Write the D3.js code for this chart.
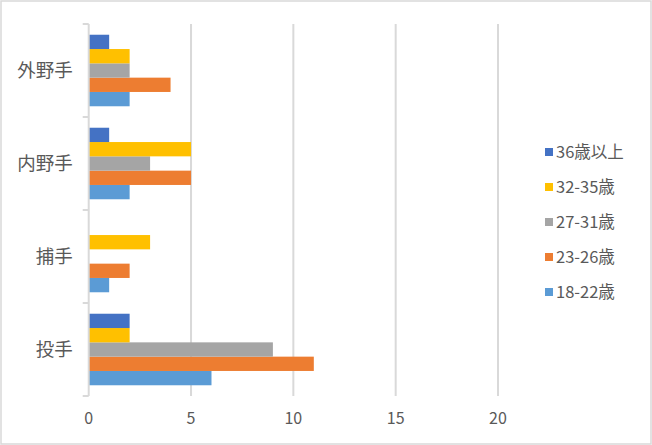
<!DOCTYPE html>
<html>
<head>
<meta charset="utf-8">
<script src="https://cdn.jsdelivr.net/npm/d3@7"></script>
<style>
  html, body { margin: 0; padding: 0; background: #fff; }
  svg { display: block; font-family: "Noto Sans CJK JP", "Noto Sans", sans-serif; }
</style>
</head>
<body>
<svg id="chart"></svg>
<script>
// categories listed bottom to top, as in the picture
const categories = ["投手", "捕手", "内野手", "外野手"];
const seriesNames = ["18-22歳", "23-26歳", "27-31歳", "32-35歳", "36歳以上"];
const seriesColors = ["#5B9BD5", "#ED7D31", "#A5A5A5", "#FFC000", "#4472C4"];

const age18_22 = [6, 1, 2, 2];
const age23_26 = [11, 2, 5, 4];
const age27_31 = [9, 0, 3, 2];
const age32_35 = [2, 3, 5, 2];
const age36plus = [2, 0, 1, 1];

const xTicks = [0, 5, 10, 15, 20];

const seriesValues = [age18_22, age23_26, age27_31, age32_35, age36plus];

const width = 652;
const height = 445;
const margin = { top: 24, right: 154, bottom: 49, left: 88.7 };

const svg = d3.select("#chart")
    .attr("width", width)
    .attr("height", height);

// outer chart border
svg.append("rect")
    .attr("x", 1).attr("y", 1)
    .attr("width", width - 2).attr("height", height - 2)
    .attr("fill", "#fff")
    .attr("stroke", "#d9d9d9")
    .attr("stroke-width", 1.5);

const x = d3.scaleLinear()
    .domain([0, 20])
    .range([margin.left, 498]);

const y = d3.scaleBand()
    .domain(categories.slice().reverse())
    .range([margin.top, height - margin.bottom]);

// inner band: 5 bars, gap width 150%
const bw = y.bandwidth() / (seriesNames.length + 1.5);
const pad = (y.bandwidth() - bw * seriesNames.length) / 2;

// gridlines
svg.append("g")
    .selectAll("line")
    .data(xTicks.filter(t => t > 0))
    .join("line")
    .attr("x1", d => x(d)).attr("x2", d => x(d))
    .attr("y1", margin.top).attr("y2", height - margin.bottom)
    .attr("stroke", "#d9d9d9")
    .attr("stroke-width", 2);

// bars
const rows = [];
categories.forEach((c, ci) => {
    seriesValues.forEach((vals, si) => {
        rows.push({ cat: c, si: si, value: vals[ci] });
    });
});

svg.append("g")
    .selectAll("rect")
    .data(rows.filter(d => d.value > 0))
    .join("rect")
    .attr("x", x(0))
    // series 0 at bottom of band
    .attr("y", d => y(d.cat) + pad + (seriesNames.length - 1 - d.si) * bw)
    .attr("width", d => x(d.value) - x(0))
    .attr("height", bw)
    .attr("fill", d => seriesColors[d.si]);

// category axis
const yAxis = svg.append("g")
    .attr("transform", `translate(${margin.left},0)`);

yAxis.append("line")
    .attr("x1", 0).attr("x2", 0)
    .attr("y1", margin.top).attr("y2", height - margin.bottom)
    .attr("stroke", "#d9d9d9")
    .attr("stroke-width", 2);

const bounds = [margin.top].concat(categories.map(c => y(c) + y.bandwidth()));
yAxis.selectAll(".tk")
    .data(bounds)
    .join("line")
    .attr("class", "tk")
    .attr("x1", -6).attr("x2", 0)
    .attr("y1", d => d).attr("y2", d => d)
    .attr("stroke", "#d9d9d9")
    .attr("stroke-width", 2);

yAxis.selectAll("text")
    .data(categories)
    .join("text")
    .attr("x", -16)
    .attr("y", d => y(d) + y.bandwidth() / 2)
    .attr("dy", "0.35em")
    .attr("text-anchor", "end")
    .attr("fill", "#595959")
    .style("font-size", "18.5px")
    .text(d => d);

// value axis labels
svg.append("g")
    .selectAll("text")
    .data(xTicks)
    .join("text")
    .attr("x", d => x(d))
    .attr("y", 418)
    .attr("dy", "0.35em")
    .attr("text-anchor", "middle")
    .attr("fill", "#595959")
    .style("font-size", "16px")
    .text(d => d);

// legend, top entry is the last series
const legend = svg.append("g");
const legendItems = legend.selectAll("g")
    .data(seriesNames.map((n, i) => ({ name: n, color: seriesColors[i], i: i })).reverse())
    .join("g")
    .attr("transform", (d, k) => `translate(545,${152 + k * 35})`);

legendItems.append("rect")
    .attr("x", 0).attr("y", -4)
    .attr("width", 8).attr("height", 8)
    .attr("fill", d => d.color);

legendItems.append("text")
    .attr("x", 11)
    .attr("y", 0)
    .attr("dy", "0.35em")
    .attr("fill", "#595959")
    .style("font-size", "16.5px")
    .text(d => d.name);
</script>
</body>
</html>
